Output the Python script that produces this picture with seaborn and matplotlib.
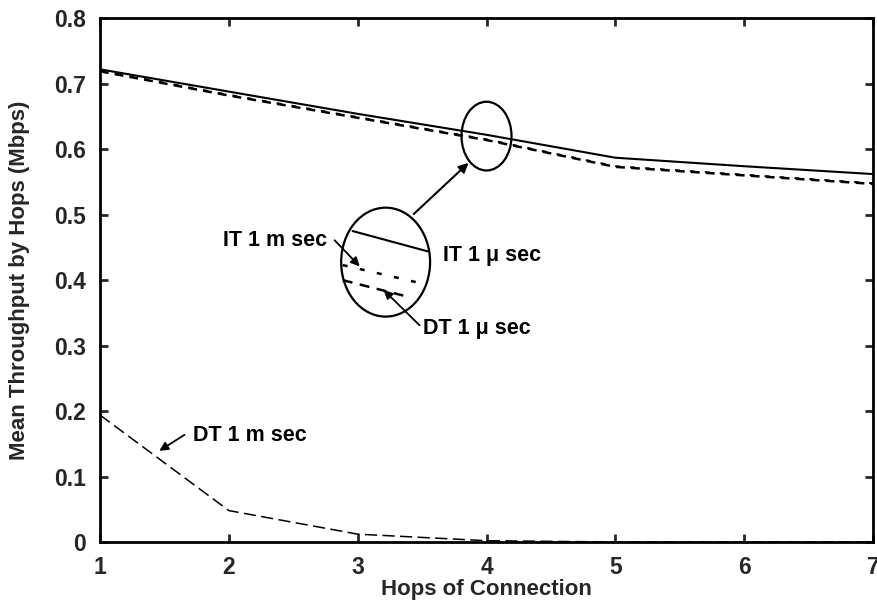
import matplotlib
matplotlib.use("Agg")
import matplotlib.pyplot as plt
from matplotlib.patches import Ellipse
import seaborn as sns
import pandas as pd

hops = [1, 2, 3, 4, 5, 6, 7]
it_1us = [0.722, 0.688, 0.654, 0.622, 0.587, 0.574, 0.562]
dt_1us = [0.719, 0.682, 0.648, 0.614, 0.573, 0.560, 0.547]
it_1ms = [0.720, 0.683, 0.649, 0.615, 0.574, 0.561, 0.548]
dt_1ms = [0.194, 0.048, 0.012, 0.002, 0.0, 0.0, 0.0]

x_ticks = [1, 2, 3, 4, 5, 6, 7]
y_ticks = [0, 0.1, 0.2, 0.3, 0.4, 0.5, 0.6, 0.7, 0.8]
y_tick_labels = ["0", "0.1", "0.2", "0.3", "0.4", "0.5", "0.6", "0.7", "0.8"]

sns.set_style("ticks")
plt.rcParams['font.family'] = ['Liberation Sans', 'DejaVu Sans']

fig = plt.figure(figsize=(8.77, 6.09), dpi=100)
ax = fig.add_axes([0.114, 0.110, 0.8815, 0.860])

df = pd.DataFrame({"hops": hops, "it_1us": it_1us, "dt_1us": dt_1us,
                   "it_1ms": it_1ms, "dt_1ms": dt_1ms})

# dotted series phased inside the dashes of the dashed series (they nearly coincide)
sns.lineplot(data=df, x="hops", y="it_1ms", ax=ax, color="black", lw=1.4,
             linestyle=(0, (2.5, 5.2)))
sns.lineplot(data=df, x="hops", y="dt_1us", ax=ax, color="black", lw=1.8,
             linestyle=(0, (3.5, 2.5)))
sns.lineplot(data=df, x="hops", y="it_1us", ax=ax, color="black", lw=1.5,
             linestyle="-")
sns.lineplot(data=df, x="hops", y="dt_1ms", ax=ax, color="black", lw=1.1,
             linestyle=(0, (8, 3.5)))

ax.set_xlim(1, 7)
ax.set_ylim(0, 0.8)
ax.set_xticks(x_ticks)
ax.set_xticklabels([str(v) for v in x_ticks])
ax.set_yticks(y_ticks)
ax.set_yticklabels(y_tick_labels)
ax.tick_params(direction="in", length=6, width=2, top=True, right=True,
               labelsize=16.5, pad=10)
for lab in ax.get_xticklabels() + ax.get_yticklabels():
    lab.set_fontweight("bold")
for s in ax.spines.values():
    s.set_visible(True)
    s.set_linewidth(2)
    s.set_color("black")

ax.set_xlabel("Hops of Connection", fontsize=16, fontweight="bold", labelpad=0)
ax.set_ylabel("Mean Throughput by Hops (Mbps)", fontsize=16, fontweight="bold",
              labelpad=17)

# zoom-in ellipses
ax.add_patch(Ellipse((3.217, 0.4275), 0.690, 0.1664, fill=False, lw=1.6,
                     edgecolor="black"))
ax.add_patch(Ellipse((4.0, 0.620), 0.388, 0.105, fill=False, lw=1.6,
                     edgecolor="black"))
ax.annotate("", xy=(3.876, 0.582), xytext=(3.419, 0.498),
            arrowprops=dict(arrowstyle="-|>", color="black", lw=1.5,
                            mutation_scale=14))

# magnified line segments inside big ellipse
ax.plot([2.961, 3.543], [0.475, 0.444], color="black", lw=1.5)
ax.plot([2.884, 3.496], [0.423, 0.395], color="black", lw=1.8,
        linestyle=(0, (2, 5)))
ax.plot([2.884, 3.403], [0.400, 0.374], color="black", lw=1.8,
        linestyle=(0, (4, 3)))

txt = dict(fontsize=15.5, fontweight="bold", color="black")
ax.text(2.760, 0.461, "IT 1 m sec", ha="right", va="center", **txt)
ax.annotate("", xy=(3.031, 0.418), xytext=(2.806, 0.464),
            arrowprops=dict(arrowstyle="-|>", color="black", lw=1.3,
                            mutation_scale=13))
ax.text(3.659, 0.438, "IT 1 \u03bc sec", ha="left", va="center", **txt)
ax.text(3.504, 0.326, "DT 1 \u03bc sec", ha="left", va="center", **txt)
ax.annotate("", xy=(3.186, 0.388), xytext=(3.496, 0.328),
            arrowprops=dict(arrowstyle="-|>", color="black", lw=1.3,
                            mutation_scale=13))
ax.text(1.721, 0.163, "DT 1 m sec", ha="left", va="center", **txt)
ax.annotate("", xy=(1.442, 0.137), xytext=(1.674, 0.166),
            arrowprops=dict(arrowstyle="-|>", color="black", lw=1.3,
                            mutation_scale=13))

fig.savefig("out.png", dpi=100)
